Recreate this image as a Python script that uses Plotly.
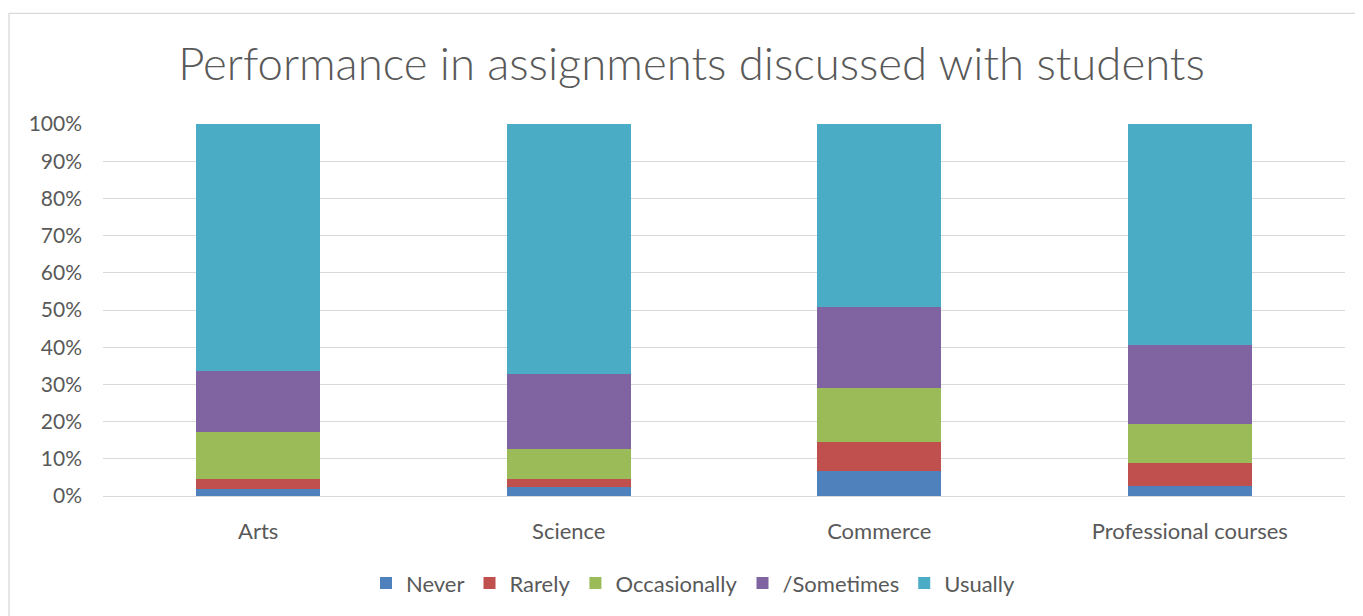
import plotly.graph_objects as go

categories = ["Arts", "Science", "Commerce", "Professional courses"]
series_names = ["Never", "Rarely", "Occasionally", "/Sometimes", "Usually"]
never = [1.8, 2.3, 6.8, 2.8]
rarely = [2.8, 2.2, 7.8, 6.2]
occasionally = [12.5, 8.1, 14.3, 10.3]
sometimes = [16.4, 20.2, 22.0, 21.4]
usually = [66.5, 67.2, 49.1, 59.3]
colors = ["#4F81BD", "#C0504D", "#9BBB59", "#8064A2", "#4BACC6"]
y_ticks = [0, 10, 20, 30, 40, 50, 60, 70, 80, 90, 100]
y_tick_labels = [f"{v}%" for v in y_ticks]

values = [never, rarely, occasionally, sometimes, usually]

fig = go.Figure()
for name, vals, col in zip(series_names, values, colors):
    fig.add_trace(go.Bar(x=categories, y=vals, name=name,
                         marker=dict(color=col, line=dict(width=0))))

font_family = "Lato, 'Open Sans', sans-serif"
W, H = 1355, 608
L, R, T, B = 95, 18, 116, 112
pw = W - L - R
ph = H - T - B
fig.update_layout(
    barmode="stack",
    bargap=0.6,
    width=W, height=H,
    paper_bgcolor="white", plot_bgcolor="white",
    margin=dict(l=L, r=R, t=T, b=B),
    title=dict(text="Performance in assignments discussed with students",
               x=(683.5 - L) / pw, xref="paper", xanchor="center",
               y=1 - 56 / H, yanchor="middle",
               font=dict(family=font_family, size=45.5, color="#595959", weight=300)),
    font=dict(family=font_family, size=20, color="#595959"),
    yaxis=dict(range=[0, 100], tickvals=y_ticks, ticktext=y_tick_labels,
               gridcolor="#D9D9D9", gridwidth=1.3, zeroline=False,
               showline=False, tickfont=dict(size=21, color="#595959"),
               ticklabelstandoff=20),
    xaxis=dict(showline=True, linecolor="#D9D9D9", linewidth=1.3,
               tickfont=dict(size=22, color="#595959"), ticks="",
               ticklabelstandoff=15),
    legend=dict(orientation="h", x=(685 - L) / pw, xanchor="center",
                y=-(585 - (H - B)) / ph, yanchor="middle",
                font=dict(size=22, color="#595959"),
                itemwidth=30, traceorder="normal"),
    shapes=[dict(type="rect", xref="paper", yref="paper",
                 x0=(1 - L) / pw, x1=(W + 20 - L) / pw,
                 y0=-(H + 20 - (H - B)) / ph, y1=(H - B - 3) / ph,
                 line=dict(color="#D9D9D9", width=1.3))],
)

fig.write_html("out.html")
